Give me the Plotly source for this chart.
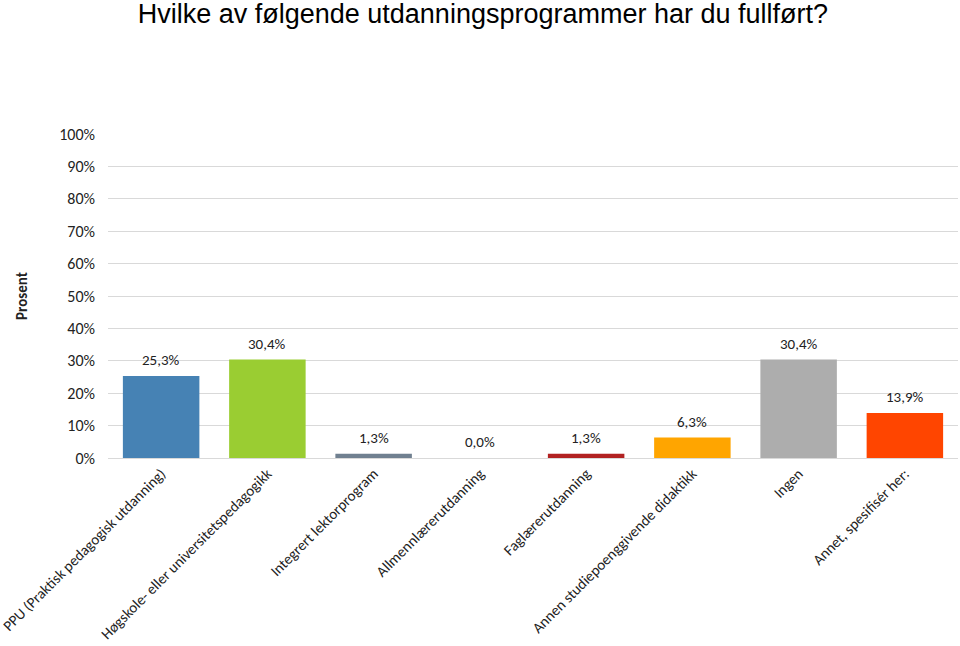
import plotly.graph_objects as go

categories = [
    "PPU (Praktisk pedagogisk utdanning)",
    "Høgskole- eller universitetspedagogikk",
    "Integrert lektorprogram",
    "Allmennlærerutdanning",
    "Faglærerutdanning",
    "Annen studiepoenggivende didaktikk",
    "Ingen",
    "Annet, spesifisér her:",
]
values = [25.3, 30.4, 1.3, 0.0, 1.3, 6.3, 30.4, 13.9]
colors = ["#4682B4", "#9ACD32", "#708090", "#D3D3D3", "#B22222", "#FFA500", "#ADADAD", "#FF4500"]
tick_vals = [0, 10, 20, 30, 40, 50, 60, 70, 80, 90, 100]
tick_text = [f"{v}%" for v in tick_vals]
labels = [f"{v:.1f}%".replace(".", ",") for v in values]

FONT = "Carlito, Calibri, Lato, sans-serif"

fig = go.Figure()
fig.add_trace(go.Bar(
    x=categories, y=values, marker=dict(color=colors, line=dict(width=0)),
    width=0.72, hoverinfo="skip",
))
for c, v, t in zip(categories, values, labels):
    fig.add_annotation(x=c, y=v, text=t, showarrow=False, yanchor="bottom",
                       yshift=5, font=dict(family=FONT, size=15, color="#222222"))

fig.update_layout(
    width=960, height=646,
    margin=dict(l=108, r=2, t=134, b=188, autoexpand=False),
    paper_bgcolor="white", plot_bgcolor="white",
    showlegend=False,
    title=dict(text="Hvilke av følgende utdanningsprogrammer har du fullført?",
               x=0.503, xanchor="center", y=0.979, yanchor="middle",
               font=dict(family="Liberation Sans, Arial, sans-serif", size=27, color="black")),
    font=dict(family=FONT, size=15, color="#222222"),
)
fig.update_yaxes(
    range=[0, 100], tickvals=tick_vals, ticktext=tick_text, automargin=False,
    showgrid=True, gridcolor="#D9D9D9", gridwidth=1, zeroline=False,
    ticks="", ticklabelstandoff=12, showline=False,
    title=dict(text="<b>Prosent</b>", font=dict(family=FONT, size=15, color="#222222"), standoff=27),
    tickfont=dict(family=FONT, size=16, color="#222222"),
)
fig.update_xaxes(
    showline=True, linecolor="#D9D9D9", linewidth=1, ticks="", automargin=False,
    tickangle=-45, tickfont=dict(family=FONT, size=15, color="#222222"),
)

fig.write_html("out.html", config={"displayModeBar": False},
               post_script="document.body.style.margin='0';")
